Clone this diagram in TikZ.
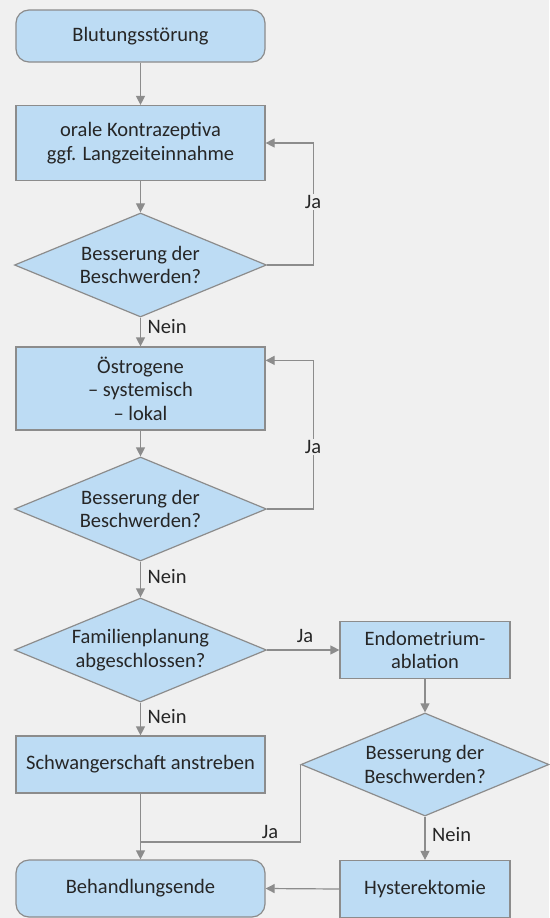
\documentclass[tikz,border=0pt]{standalone}
\usepackage{fontspec}
\setmainfont{Carlito}
\usetikzlibrary{shapes.geometric,arrows.meta}
\definecolor{bgc}{HTML}{F0F0F0}
\definecolor{boxc}{HTML}{BDDCF4}
\definecolor{linec}{HTML}{8C8C8C}
\definecolor{txtc}{HTML}{262626}
\begin{document}
\begin{tikzpicture}[x=1pt,y=-1pt,
  font=\fontsize{20.5}{23.5}\selectfont, text=txtc,
  box/.style={draw=linec, fill=boxc, line width=1.2pt, align=center, inner sep=0pt},
  rbox/.style={box, rounded corners=13pt},
  dia/.style={diamond, draw=linec, fill=boxc, line width=1.2pt, inner sep=0pt,
              minimum width=252pt, minimum height=104pt},
  ln/.style={draw=linec, line width=1.2pt},
  arr/.style={ln, -{Triangle[length=9pt,width=9pt]}},
  lbl/.style={inner sep=1.5pt}
]
\fill[bgc] (0,0) rectangle (549,918);
\useasboundingbox (0,0) rectangle (549,918);

% nodes
\node[rbox, minimum width=249pt, minimum height=52pt] (start) at (140.5,36) {Blutungsstörung};
\node[box, minimum width=249pt, minimum height=75pt] (oc) at (140.5,143) {orale Kontrazeptiva\\ggf. Langzeiteinnahme};
\node[dia, label={[align=center]center:Besserung der\\Beschwerden?}] (d1) at (140.5,265) {};
\node[box, minimum width=249pt, minimum height=83pt] (oe) at (140.5,388.5) {Östrogene\\– systemisch\\– lokal};
\node[dia, label={[align=center]center:Besserung der\\Beschwerden?}] (d2) at (140.5,509) {};
\node[dia, label={[align=center]center:Familienplanung\\abgeschlossen?}] (d3) at (140.5,650) {};
\node[box, minimum width=170pt, minimum height=57pt] (endo) at (425,650) {Endometrium-\\ablation};
\node[dia, minimum width=248pt, minimum height=103pt, label={[align=center]center:Besserung der\\Beschwerden?}] (d4) at (425,764.5) {};
\node[box, minimum width=249pt, minimum height=57pt] (sch) at (140.5,764.5) {Schwangerschaft anstreben};
\node[rbox, minimum width=249pt, minimum height=57pt] (end) at (140.5,888.5) {Behandlungsende};
\node[box, minimum width=170pt, minimum height=57pt] (hyst) at (425,889) {Hysterektomie};
\coordinate (j) at (140.5,842);

% connectors
\draw[arr] (start) -- (oc);
\draw[arr] (oc) -- (d1);
\draw[arr] (d1) -- (oe);
\draw[arr] (d1.east) -- ++(46.5,0) |- (oc.east);
\draw[arr] (oe) -- (d2);
\draw[arr] (d2) -- (d3);
\draw[arr] (d2.east) -- ++(46.5,0) |- ([yshift=-14pt]oe.north east);
\draw[arr] (d3.east) -- (endo.west);
\draw[arr] (d3) -- (sch);
\draw[arr] (endo) -- (d4);
\draw[arr] (d4) -- (hyst);
\draw[ln] (d4.west) |- (j);
\draw[arr] (sch) -- (end);
\draw[arr] (hyst.west) -- (end.east);

% labels
\node[lbl, fill=bgc] (ja1) at (313,202) {Ja};
\node[lbl, fill=bgc] (ja2) at (313,447) {Ja};
\node[lbl] (ja3) at (305,636) {Ja};
\node[lbl] (ja4) at (270,832) {Ja};
\node[lbl, anchor=west] (n1) at (146,327) {Nein};
\node[lbl, anchor=west] (n2) at (146,577) {Nein};
\node[lbl, anchor=west] (n3) at (146,717) {Nein};
\node[lbl, anchor=west] (n4) at (430.5,835) {Nein};
\end{tikzpicture}
\end{document}
